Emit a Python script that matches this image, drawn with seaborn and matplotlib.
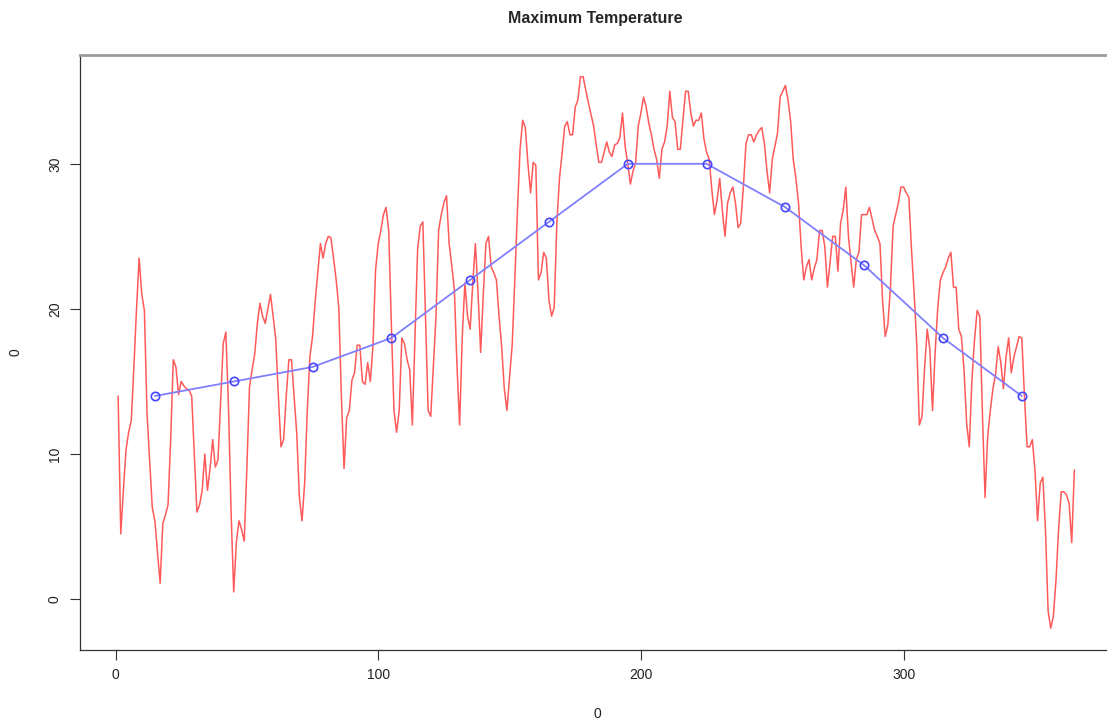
import matplotlib
matplotlib.use("Agg")
import matplotlib.pyplot as plt
import seaborn as sns
import numpy as np

# daily maximum temperature (one value per day)
tmax = [
    14, 4.5, 7.5, 10.3, 11.5, 12.3, 16, 20, 23.5, 21,
    19.9, 12.8, 9.5, 6.3, 5.4, 3.2, 1.1, 5.2, 5.8, 6.5,
    11, 16.5, 16, 14.1, 15, 14.7, 14.5, 14.4, 14, 10,
    6, 6.5, 7.5, 10, 7.5, 9, 11, 9.1, 9.6, 13.5,
    17.6, 18.4, 13.3, 6, 0.5, 3.9, 5.4, 4.8, 4, 9,
    14.6, 15.8, 16.9, 19, 20.4, 19.5, 19, 20, 21, 19.5,
    17.9, 14, 10.5, 11, 14, 16.5, 16.5, 14, 11.4, 7,
    5.4, 8, 13, 16.7, 18.1, 20.5, 22.5, 24.5, 23.5, 24.5,
    25, 24.9, 23.5, 22, 20.1, 13.9, 9, 12.5, 13, 15.1,
    15.6, 17.5, 17.5, 15, 14.8, 16.3, 15, 17.4, 22.7, 24.5,
    25.4, 26.5, 27, 25.4, 19, 13, 11.5, 13, 18, 17.6,
    16.5, 15.8, 12, 18.1, 24.1, 25.7, 26, 19.5, 13, 12.6,
    16, 19.5, 25.4, 26.5, 27.3, 27.8, 24.5, 23, 21.3, 16,
    12, 18.1, 21.8, 19.5, 18.6, 21.8, 24.5, 21.1, 17, 21,
    24.5, 25, 22.9, 22.5, 22, 19.5, 17.4, 14.5, 13, 15.3,
    17.5, 22, 26.8, 31, 33, 32.5, 30, 28, 30.1, 29.9,
    22, 22.5, 23.9, 23.5, 20.6, 19.5, 20.1, 25.9, 29, 30.7,
    32.6, 32.9, 32, 32, 33.9, 34.4, 36, 36, 35.1, 34.2,
    33.4, 32.6, 31.3, 30.1, 30.1, 30.8, 31.5, 30.8, 30.5, 31.3,
    31.4, 31.8, 33.5, 31.2, 30, 28.6, 29.5, 30.1, 32.6, 33.5,
    34.6, 33.9, 32.8, 32, 31, 30.3, 29, 31, 31.5, 32.6,
    35, 33.2, 32.9, 31, 31, 33, 35, 35, 33.5, 32.6,
    33, 33, 33.5, 31.7, 30.8, 30.3, 28.2, 26.5, 27.5, 29,
    26.8, 25, 27.3, 28, 28.4, 27.3, 25.6, 25.9, 28.4, 31.4,
    32, 32, 31.5, 32, 32.3, 32.5, 31.4, 29.5, 28, 30.3,
    31.2, 32.1, 34.6, 35, 35.4, 34.4, 32.9, 30.3, 29, 27.3,
    24.3, 22, 22.9, 23.4, 22, 22.8, 23.4, 25.4, 25.4, 24.3,
    21.5, 23.2, 25, 25, 22.6, 25.9, 26.8, 28.4, 25, 23.2,
    21.5, 23.4, 23.9, 26.5, 26.5, 26.5, 27, 26.2, 25.4, 25,
    24.5, 20.6, 18.1, 18.9, 21.5, 25.7, 26.5, 27.3, 28.4, 28.4,
    28, 27.7, 24.1, 21.1, 17.6, 12, 12.6, 16, 18.6, 17.2,
    13, 17, 20.1, 22, 22.5, 22.9, 23.5, 23.9, 21.5, 21.5,
    18.6, 18.1, 15.8, 12.1, 10.5, 15.1, 17.9, 19.9, 19.5, 12.8,
    7, 11.2, 13, 14.5, 15.5, 17.4, 16.3, 14.5, 16.7, 18,
    15.6, 16.7, 17.4, 18.1, 18, 14, 10.5, 10.5, 11, 8.9,
    5.4, 8, 8.4, 4.8, -0.8, -2, -1.2, 1.3, 4.8, 7.4,
    7.4, 7.2, 6.6, 3.9, 8.9,
]
days = np.arange(1, len(tmax) + 1)

# monthly means placed mid-month
month_day = [15, 45, 75, 105, 135, 165, 195, 225, 255, 285, 315, 345]
month_mean = [14, 15, 16, 18, 22, 26, 30, 30, 27, 23, 18, 14]

sns.set_style("white")
plt.rcParams['font.family'] = ['Liberation Sans', 'DejaVu Sans']

fig = plt.figure(figsize=(11.07, 7.23), dpi=100)
ax = fig.add_axes([0.0723, 0.101, 0.935, 0.823])

sns.lineplot(x=days, y=tmax, color='#ff5a5a', linewidth=1.1, ax=ax)
sns.lineplot(x=month_day, y=month_mean, color='#8080ff', linewidth=1.3,
             marker='o', markersize=6, markerfacecolor='none',
             markeredgecolor='#4545ff', markeredgewidth=1.2, ax=ax)

ax.set_xlim(-13.5, 380.5)
ax.set_ylim(-3.5, 37.5)
ax.set_xticks([0, 100, 200, 300])
ax.set_yticks([0, 10, 20, 30])
ax.tick_params(axis='both', direction='out', length=7, width=0.8,
               bottom=True, left=True, color='#333333',
               labelsize=10, labelcolor='#222222', pad=6)
plt.setp(ax.get_yticklabels(), rotation=90, va='center')

for side in ['left', 'bottom']:
    ax.spines[side].set_color('#333333')
    ax.spines[side].set_linewidth(0.9)
ax.spines['top'].set_color('#9a9a9a')
ax.spines['top'].set_linewidth(2)
ax.spines['right'].set_visible(False)

ax.set_xlabel('0', fontsize=10, color='#222222', labelpad=18)
ax.set_ylabel('0', fontsize=10, color='#222222', labelpad=18)
fig.text(0.538, 0.975, 'Maximum Temperature', ha='center', va='center',
         fontsize=11.5, fontweight='bold')

fig.savefig('out.png', dpi=100)
